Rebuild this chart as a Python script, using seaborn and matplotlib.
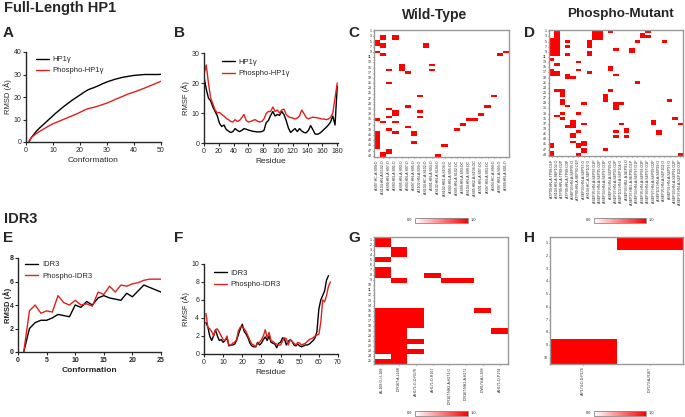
import numpy as np
import pandas as pd
import seaborn as sns
import matplotlib.pyplot as plt
from matplotlib.cm import ScalarMappable
from matplotlib.colors import Normalize

# ---- data -------------------------------------------------------------
conf_fl = list(range(1, 51))
rmsd_hp1 = [0, 2, 3.5, 5, 6.2, 7.3, 8.4, 9.5, 10.6, 11.7, 12.8, 13.8, 14.8, 15.8, 16.7,
            17.6, 18.5, 19.3, 20.1, 20.9, 21.7, 22.5, 23.2, 23.7, 24.1, 24.6, 25.1, 25.7,
            26.2, 26.7, 27.1, 27.5, 27.9, 28.2, 28.5, 28.8, 29.0, 29.2, 29.4, 29.6, 29.7,
            29.8, 29.9, 30.0, 30.0, 30.0, 30.0, 30.0, 30.0, 30.1]
rmsd_phospho_hp1 = [0, 2, 3, 3.9, 4.7, 5.4, 6.1, 6.8, 7.5, 8.1, 8.6, 9.1, 9.6, 10.1, 10.6,
                    11.1, 11.6, 12.1, 12.6, 13.2, 13.8, 14.4, 14.8, 15.1, 15.4, 15.7, 16.1,
                    16.5, 16.9, 17.3, 17.8, 18.3, 18.9, 19.4, 19.9, 20.4, 20.9, 21.4, 21.8,
                    22.2, 22.6, 23.1, 23.5, 24.0, 24.5, 25.0, 25.5, 26.0, 26.5, 27.0]

residue_fl = list(range(0, 181, 3))
rmsf_hp1 = [22, 18, 15, 14, 12, 10.5, 9, 6.5, 5.5, 6, 4.5, 4, 3.5, 3.8, 4.8, 4.2, 3.8, 4.2,
            4.8, 4.6, 4.3, 4.1, 3.9, 3.8, 3.7, 3.7, 3.8, 4.2, 6.8, 7.5, 9.2, 10.5, 9, 9.5,
            9.2, 10.5, 9.5, 7.5, 5, 3.5, 4.2, 4.8, 3.8, 4.8, 4, 3.5, 3.4, 4.2, 5.8, 4.5, 3,
            2.9, 3.2, 3.8, 4.5, 5.2, 6, 7, 9, 6, 19]
rmsf_phospho_hp1 = [23, 26, 20, 15, 13, 11, 10, 10.2, 9.5, 9, 8.2, 7.8, 7.2, 7, 7.8, 7.2,
                    7.5, 8.5, 9.5, 7.5, 7, 7.2, 7.5, 7.8, 7.3, 7, 7.2, 8, 9.8, 10.5, 10.5,
                    12, 10.5, 11, 10, 11, 11.3, 9.5, 8.8, 8.5, 8.3, 8, 8.3, 9, 11, 9.8, 8.5,
                    8, 8.4, 8.6, 8.5, 8.4, 8.2, 8, 8, 7.8, 8, 8.5, 10, 15, 20]

conf_idr = list(range(1, 26))
rmsd_idr3 = [0, 2.0, 2.5, 2.7, 2.7, 2.9, 3.2, 3.1, 3.0, 4.0, 3.8, 4.3, 4.0, 4.6, 4.8, 4.6,
             4.5, 4.4, 5.0, 4.7, 5.2, 5.7, 5.5, 5.3, 5.1]
rmsd_phospho_idr3 = [0, 3.5, 4.0, 3.3, 3.5, 3.4, 4.8, 4.2, 4.0, 4.4, 4.0, 4.1, 3.9, 5.1,
                     4.9, 5.6, 5.1, 5.7, 5.6, 5.8, 5.9, 6.1, 6.2, 6.2, 6.2]

rmsf_idr3 = [3.5, 3, 2, 1.5, 2, 2.7, 2, 1.5, 1.6, 1.3, 1.5, 1.8, 0.9, 1.0, 1.0, 1.1, 1.5,
             2.2, 2.8, 3.3, 2.5, 2.2, 1.8, 1.2, 0.9, 0.8, 0.8, 1.3, 1.0, 1.2, 1.6, 1.9, 1.5,
             2.0, 1.3, 1.2, 1.1, 0.7, 1.2, 1.3, 1.8, 1.7, 1.0, 1.4, 1.6, 1.4, 1.0, 0.9, 1.1,
             0.9, 0.8, 0.9, 1.0, 1.0, 1.1, 1.3, 1.5, 1.8, 2.5, 5.0, 6.0, 6.5, 7.0, 8.2, 8.7]
rmsf_phospho_idr3 = [4.5, 3.0, 2.8, 2.5, 2.0, 2.7, 2.8, 2.4, 2.0, 1.6, 1.5, 2.0, 1.0, 1.0,
                     1.2, 1.3, 1.6, 2.6, 3.0, 3.0, 2.8, 2.5, 2.0, 1.5, 1.1, 1.0, 0.8, 1.2,
                     1.3, 1.6, 2.0, 2.7, 1.8, 2.4, 1.5, 1.4, 1.2, 1.1, 1.0, 1.0, 1.4, 1.8,
                     1.7, 1.0, 1.6, 1.4, 1.2, 1.0, 1.3, 1.2, 1.0, 1.1, 1.2, 1.4, 1.6, 1.7,
                     1.8, 2.0, 2.1, 2.2, 3.5, 6.0, 5.8, 6.5, 7.5, 8.0]
residue_idr3 = list(range(1, len(rmsf_idr3) + 1))
residue_phospho_idr3 = list(range(1, len(rmsf_phospho_idr3) + 1))

# contact maps: (first row, last row, first col, last col) of the occupied cells
wt_blocks = [(2, 3, 1, 1), (2, 3, 3, 3), (4, 5, 0, 0), (5, 6, 1, 1), (5, 6, 8, 8),
             (8, 8, 0, 0), (9, 9, 1, 1), (9, 9, 20, 20), (8, 8, 21, 21), (13, 15, 4, 4),
             (13, 13, 9, 9), (15, 15, 9, 9), (15, 15, 2, 2), (16, 16, 5, 5), (20, 20, 2, 2),
             (25, 25, 7, 7), (25, 25, 19, 19), (29, 29, 5, 5), (30, 30, 2, 2), (31, 32, 3, 3),
             (31, 31, 7, 7), (33, 33, 2, 2), (33, 33, 7, 7), (29, 29, 18, 18), (32, 32, 17, 17),
             (34, 34, 15, 16), (34, 34, 0, 0), (35, 35, 1, 1), (35, 35, 3, 3), (36, 36, 14, 14),
             (37, 37, 5, 5), (38, 38, 13, 13), (38, 38, 2, 2), (39, 39, 3, 3), (39, 40, 6, 6),
             (39, 45, 0, 0), (43, 43, 6, 6), (44, 44, 11, 11), (46, 47, 2, 2), (47, 48, 1, 1),
             (48, 48, 10, 10)]
mut_blocks = [(0, 2, 1, 1), (3, 9, 0, 1), (0, 3, 8, 9), (0, 0, 11, 11), (0, 0, 18, 18),
              (1, 2, 17, 17), (2, 2, 18, 18), (4, 4, 16, 16), (4, 4, 21, 21), (4, 4, 3, 3),
              (4, 6, 7, 7), (6, 6, 3, 3), (7, 7, 12, 12), (7, 8, 15, 15), (8, 9, 7, 7),
              (9, 9, 3, 3), (11, 11, 0, 0), (13, 13, 1, 1), (12, 12, 5, 5), (15, 15, 5, 5),
              (15, 17, 0, 0), (16, 17, 1, 1), (14, 15, 11, 11), (16, 16, 7, 7), (17, 17, 3, 3),
              (18, 18, 3, 4), (17, 17, 12, 12), (20, 20, 16, 16), (23, 23, 1, 2), (23, 25, 2, 2),
              (23, 23, 11, 11), (25, 27, 10, 10), (27, 28, 2, 2), (29, 29, 3, 3), (28, 28, 6, 6),
              (28, 29, 12, 12), (28, 28, 13, 13), (30, 30, 12, 12), (27, 27, 22, 22),
              (32, 32, 2, 2), (33, 33, 1, 1), (34, 34, 2, 2), (32, 32, 5, 5), (34, 34, 23, 23),
              (35, 37, 4, 4), (37, 37, 3, 3), (36, 36, 6, 6), (36, 36, 13, 13), (35, 36, 19, 19),
              (36, 36, 24, 24), (38, 39, 14, 14), (39, 39, 5, 5), (40, 41, 4, 4), (39, 39, 12, 12),
              (41, 41, 12, 12), (41, 41, 14, 14), (39, 40, 20, 20), (43, 43, 4, 4), (44, 45, 5, 5),
              (43, 44, 6, 6), (44, 45, 0, 0), (46, 47, 6, 6), (46, 46, 10, 10), (47, 48, 0, 0),
              (48, 48, 5, 5), (48, 48, 24, 24)]
idr_wt_blocks = [(0, 1, 0, 0), (2, 3, 1, 1), (4, 4, 0, 0), (6, 7, 0, 0), (7, 7, 3, 3),
                 (8, 8, 1, 1), (8, 8, 4, 5), (14, 17, 0, 2), (14, 14, 6, 6), (18, 18, 7, 7),
                 (18, 22, 0, 1), (23, 23, 1, 1), (24, 24, 0, 1), (20, 20, 2, 2), (22, 22, 2, 2)]
idr_mut_blocks = [(0, 0, 1, 1), (8, 9, 0, 0)]

wt_cols = ["A:S97:HC-A:S99:O", "A:S104:HN-A:E102:O", "A:S99:HN-A:S97:O", "A:S93:HN-A:S91:O",
           "A:S95:HN-A:S93:O", "A:S93:HN-A:S97:O", "A:S97:HN-A:S95:O", "A:T102:HN-A:S99:O",
           "A:S104:HC-A:S102:O", "A:S91:HN-A:S93:O", "A:S102:HN-A:S104:O", "A:S102:HB1-A:S104:O",
           "A:S93:HN-A:S95:OC", "A:S95:HN-A:S102:OC", "A:S99:HN-A:S93:OC", "A:S104:HN-A:S99:OC",
           "A:S95:HB2-A:S104:OC", "A:S91:HN-A:S97:OC", "A:S97:HN-A:S93:OC", "A:S93:HC-A:S99:O",
           "A:S97:HB1-A:S95:O", "A:S99:HN-A:S91:O"]
mut_cols = ["A:TP99:HN-A:TP99:O1P", "A:S104:HN-A:SEP102:O", "A:TP99:HN-A:TP99:O2P",
            "A:TP99:HN-A:TP99:O3P", "A:SEP93:HN-A:SEP95:O", "A:TP99:HN-A:SEP93:O1P",
            "A:SEP93:HN-A:SEP97:O", "A:S104:HC-A:SEP102:O", "A:SEP95:HN-A:SEP93:O1P",
            "A:SEP97:HN-A:SEP95:O2P", "A:SEP93:HN-A:SEP97:O3P", "A:SEP95:HN-A:SEP99:O",
            "A:SEP97:HN-A:SEP93:O2P", "A:SEP102:HN-A:SEP104:O", "A:SEP93:HB2-A:SEP91:O",
            "A:SEP97:HB1-A:SEP95:O1P", "A:SEP93:HN-A:SEP97:O1P", "A:SEP95:HN-A:SEP93:O3P",
            "A:SEP99:HN-A:SEP97:O1P", "A:SEP97:HN-A:SEP99:O2P", "A:SEP102:HN-A:SEP99:O",
            "A:SEP95:HN-A:SEP102:O", "A:SEP91:HN-A:SEP97:O", "A:SEP93:HN-A:SEP91:O2P",
            "A:SEP97:HN-A:SEP102:O3P"]
idr_wt_cols = ["A:L168:O-I:L168", "D:R167:A-L168", "A:H171:O-D:R170", "A:H171:O-R167",
               "D:R167:NH2-A:H171:O", "D:R167:NH1-A:H171", "D:W174:A-L168", "A:H171:O-P174"]
idr_mut_cols = ["A:P174:O-D:P174", "D:Y173:A-R167"]

# ---- figure -----------------------------------------------------------
sns.set_style("ticks")
plt.rcParams['font.family'] = ['Liberation Sans', 'DejaVu Sans']
plt.rcParams['axes.linewidth'] = 1.0

W, H = 685, 417
fig = plt.figure(figsize=(W / 100, H / 100), dpi=100)


def rect(x0, y0, x1, y1):
    return [x0 / W, 1 - y1 / H, (x1 - x0) / W, (y1 - y0) / H]


def label(x, y, s, size=10):
    fig.text(x / W, 1 - y / H, s, fontsize=size, fontweight='bold', va='top', ha='left')


BLACK, RED = 'black', '#e0201c'


def line_panel(box, xs1, ys1, xs2, ys2, names, xlim, ylim, xticks, yticks, xlabel, ylabel,
               legend_at, bold=False):
    ax = fig.add_axes(rect(*box))
    sns.lineplot(x=xs1, y=ys1, color=BLACK, lw=1.0, label=names[0], ax=ax)
    sns.lineplot(x=xs2, y=ys2, color=RED, lw=1.0, label=names[1], ax=ax)
    ax.set_xlim(*xlim)
    ax.set_ylim(*ylim)
    ax.set_xticks(xticks)
    ax.set_yticks(yticks)
    w = 'bold' if bold else 'normal'
    ax.set_xlabel(xlabel, fontsize=6, fontweight=w, labelpad=2)
    ax.set_ylabel(ylabel, fontsize=5.5, fontweight=w, labelpad=1)
    ax.tick_params(labelsize=5, length=2.5, width=0.8, pad=1)
    for t in ax.get_xticklabels() + ax.get_yticklabels():
        t.set_fontweight(w)
    sns.despine(ax=ax)
    ax.legend(loc='upper left', frameon=False, fontsize=5.5, handlelength=1.7,
              handletextpad=0.5, borderaxespad=0.0, labelspacing=0.5,
              bbox_to_anchor=legend_at)
    return ax


line_panel((26, 52, 161, 142), conf_fl, rmsd_hp1, conf_fl, rmsd_phospho_hp1,
           ["HP1γ", "Phospho-HP1γ"], (0, 50), (0, 40), range(0, 51, 10), range(0, 41, 10),
           "Conformation", "RMSD (Å)", (0.05, 0.99))
line_panel((204, 53, 338, 143), residue_fl, rmsf_hp1, residue_fl, rmsf_phospho_hp1,
           ["HP1γ", "Phospho-HP1γ"], (0, 181), (0, 30), range(0, 181, 20), range(0, 31, 10),
           "Residue", "RMSF (Å)", (0.11, 0.97))
ax_e = line_panel((18, 258, 161, 352), conf_idr, rmsd_idr3, conf_idr, rmsd_phospho_idr3,
                  ["IDR3", "Phospho-IDR3"], (0, 25), (0, 8), range(0, 26, 5), range(0, 9, 2),
                  "Conformation", "RMSD (Å)", (0.03, 1.0), bold=True)
ax_e.tick_params(axis='y', pad=0.5)
ax_e.yaxis.set_label_coords(-0.045, 0.5)
line_panel((204, 264, 338, 354), residue_idr3, rmsf_idr3, residue_phospho_idr3,
           rmsf_phospho_idr3, ["IDR3", "Phospho-IDR3"], (0, 70), (0, 10), range(0, 71, 10),
           range(0, 11, 2), "Residue", "RMSF (Å)", (0.05, 0.97))

cmap = sns.blend_palette(["white", "#ff0000"], as_cmap=True)


def contact_map(box, blocks, nrows, cols, ystep):
    mat = np.zeros((nrows, len(cols)))
    for r0, r1, c0, c1 in blocks:
        mat[r0:r1 + 1, c0:c1 + 1] = 1
    df = pd.DataFrame(mat, index=range(1, nrows + 1), columns=cols)
    ax = fig.add_axes(rect(*box))
    sns.heatmap(df, cmap=cmap, vmin=0, vmax=1, cbar=False, ax=ax,
                xticklabels=cols, yticklabels=ystep)
    ax.tick_params(labelsize=2.6, length=1, width=0.4, pad=0.8)
    plt.setp(ax.get_xticklabels(), rotation=90)
    plt.setp(ax.get_yticklabels(), rotation=0)
    for s in ax.spines.values():
        s.set_visible(True)
        s.set_color('#999999')
        s.set_linewidth(1.0)
    return ax


def colorbar(x0, x1, y):
    cax = fig.add_axes(rect(x0, y - 2.5, x1, y + 2.5))
    cb = fig.colorbar(ScalarMappable(Normalize(0, 1), cmap), cax=cax,
                      orientation='horizontal')
    cax.set_xticks([])
    cb.outline.set_edgecolor('#888888')
    cb.outline.set_linewidth(0.6)
    fig.text((x0 - 3) / W, 1 - y / H, "0.0", fontsize=2.8, ha='right', va='center')
    fig.text((x1 + 3) / W, 1 - y / H, "1.0", fontsize=2.8, ha='left', va='center')


contact_map((374, 30, 509, 157), wt_blocks, 49, wt_cols, 2)
contact_map((549, 30, 683, 156), mut_blocks, 49, mut_cols, 2)
contact_map((374, 237, 508, 364), idr_wt_blocks, 25, idr_wt_cols, 1)
contact_map((550, 237, 683, 364), idr_mut_blocks, 10, idr_mut_cols, 1)

colorbar(415, 468, 220)
colorbar(594, 646, 220)
colorbar(415, 468, 413)
colorbar(594, 646, 413)

label(4, 1, "Full-Length HP1", 10.5)
label(3, 26, "A", 11)
label(174, 26, "B", 11)
label(348, 26, "C", 11)
label(524, 26, "D", 11)
fig.text(435 / W, 1 - 8 / H, "Wild-Type", fontsize=10, fontweight='bold', ha='center', va='top')
fig.text(621 / W, 1 - 8 / H, "Phospho-Mutant", fontsize=9.7, fontweight='bold',
         ha='center', va='top')
label(4, 212, "IDR3", 10.5)
label(3, 231, "E", 11)
label(174, 231, "F", 11)
label(348, 231, "G", 11)
label(524, 231, "H", 11)

fig.savefig("out.png", dpi=100, facecolor='white')
